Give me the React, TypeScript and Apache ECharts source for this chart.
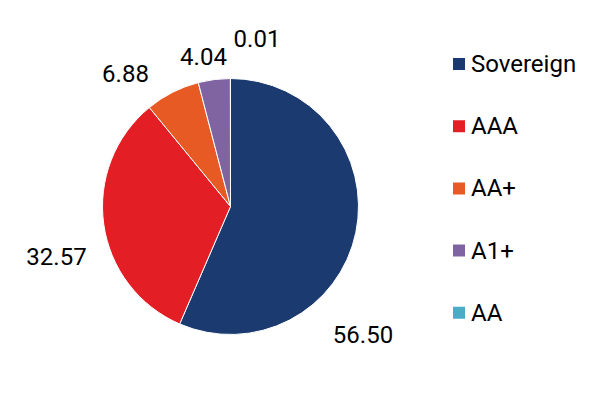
import React, { useEffect, useRef } from "react";
import * as echarts from "echarts";

const categories = ["Sovereign", "AAA", "AA+", "A1+", "AA"];
const values = [56.5, 32.57, 6.88, 4.04, 0.01];
const colors = ["#1b3b70", "#e31e24", "#e85a24", "#8064a2", "#4bacc6"];

const CX = 230.5;
const CY = 206.5;
const labelOffsets: [number, number][] = [
  [132.5, 128.5],
  [-174, 50.5],
  [-105, -132.5],
  [-27, -150],
  [26.5, -168],
];

export default function App() {
  const ref = useRef<HTMLDivElement>(null);
  useEffect(() => {
    if (!ref.current) return;
    const chart = echarts.init(ref.current, null, { renderer: "svg" });
    chart.setOption({
      animation: false,
      backgroundColor: "#ffffff",
      legend: {
        orient: "vertical",
        left: 446,
        top: 47,
        itemWidth: 14,
        itemHeight: 14,
        itemGap: 38.2,
        icon: "rect",
        textStyle: { fontFamily: "Roboto", fontSize: 24, color: "#000" },
        data: categories,
      },
      series: [
        {
          type: "pie",
          center: [CX, CY],
          radius: 128,
          startAngle: 90,
          clockwise: true,
          avoidLabelOverlap: false,
          itemStyle: { borderColor: "#fff", borderWidth: 1 },
          label: {
            show: true,
            position: "outside",
            fontFamily: "Roboto",
            fontSize: 24,
            color: "#000",
            formatter: (p: any) => p.value.toFixed(2),
          },
          labelLine: { show: false },
          labelLayout: (p: any) => {
            const o = labelOffsets[p.dataIndex];
            return { x: CX + o[0], y: CY + o[1], align: "center", verticalAlign: "middle" };
          },
          emphasis: { disabled: true },
          data: categories.map((c, i) => ({
            name: c,
            value: values[i],
            itemStyle: { color: colors[i] },
          })),
        },
      ],
    });
    return () => chart.dispose();
  }, []);
  return (
    <div
      ref={ref}
      style={{ position: "fixed", left: 0, top: 0, width: 602, height: 395 }}
    />
  );
}
